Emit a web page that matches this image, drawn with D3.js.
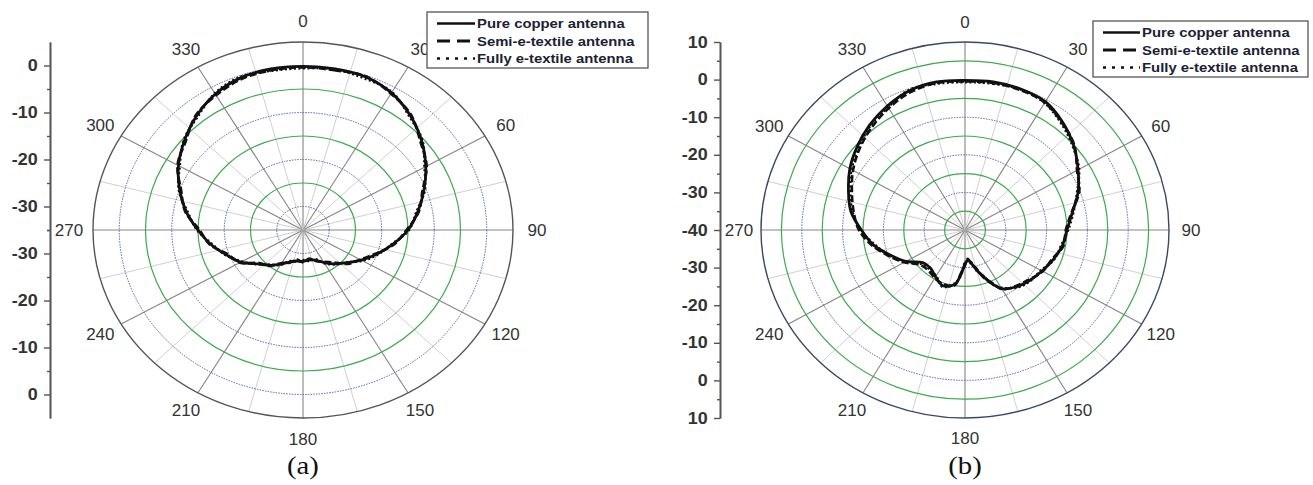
<!DOCTYPE html>
<html>
<head>
<meta charset="utf-8">
<script src="https://cdn.jsdelivr.net/npm/d3@7"></script>
<style>
  html, body { margin: 0; padding: 0; background: #fff; }
  svg { display: block; }
</style>
</head>
<body>
<svg id="chart" width="1313" height="485"></svg>
<script>
// ---------------- DATA ----------------
const seriesNames = ["Pure copper antenna", "Semi-e-textile antenna", "Fully e-textile antenna"];
const angleLabels = [0, 30, 60, 90, 120, 150, 180, 210, 240, 270, 300, 330];

// Panel (a)
const anglesA = [0,10,20,30,40,50,60,70,80,90,100,110,120,130,140,150,160,170,180,190,200,210,220,230,240,250,260,270,280,290,300,310,320,330,340,350];
const copperA = [-0.2,-0.2,-0.3,-1.3,-3.2,-5.5,-8.0,-10.5,-12.8,-15.0,-17.6,-20.0,-22.2,-24.2,-25.6,-27.0,-28.2,-28.5,-28.3,-28.3,-27.8,-26.6,-25.2,-23.8,-21.3,-19.5,-17.2,-15.0,-12.4,-10.0,-7.6,-5.5,-3.4,-1.6,-0.5,-0.2];
const semiA   = [-0.4,-0.5,-0.2,-1.5,-3.0,-5.8,-7.8,-10.8,-12.6,-15.3,-17.4,-20.3,-22.4,-23.8,-26.0,-27.2,-28.0,-28.8,-28.1,-28.6,-27.6,-26.9,-25.0,-24.1,-21.1,-19.8,-17.0,-15.3,-12.2,-10.3,-7.4,-5.8,-3.2,-1.9,-0.8,-0.5];
const fullyA  = [-0.6,-0.3,-0.7,-1.1,-3.5,-5.3,-8.3,-10.3,-13.1,-14.8,-17.8,-19.8,-21.9,-24.3,-25.4,-26.8,-28.4,-28.3,-28.6,-28.1,-28.0,-26.4,-25.4,-23.6,-21.6,-19.3,-17.5,-14.8,-12.7,-9.8,-7.9,-5.3,-3.7,-1.4,-0.3,-0.6];
const radialTicksA = [0, -10, -20, -30];

// Panel (b)
const anglesB = [0,10,20,30,40,50,60,70,80,90,100,110,120,130,140,150,155,160,165,170,175,180,185,190,200,210,220,230,240,250,260,270,280,290,300,310,320,330,340,350];
const copperB = [-0.2,0.0,-0.1,-0.6,-2.7,-5.2,-8.0,-10.5,-13.3,-15.0,-15.8,-17.0,-18.2,-19.2,-20.3,-22.0,-24.2,-26.8,-29.0,-31.0,-32.0,-31.0,-28.0,-25.3,-24.2,-25.6,-26.8,-26.5,-23.3,-20.5,-17.2,-14.6,-11.6,-9.6,-7.4,-5.5,-3.6,-1.9,-0.5,0.0];
const semiB   = [-0.5,-0.3,-0.4,-0.9,-2.9,-5.0,-8.3,-10.2,-13.5,-15.3,-15.5,-17.3,-18.0,-19.5,-20.6,-21.8,-24.6,-26.5,-29.4,-30.6,-32.3,-30.6,-28.4,-25.0,-24.6,-25.2,-26.0,-25.6,-22.8,-20.0,-16.8,-14.0,-12.3,-10.5,-8.3,-6.3,-4.4,-2.6,-1.0,-0.3];
const fullyB  = [-0.7,-0.5,-0.2,-1.0,-3.2,-5.5,-7.7,-10.8,-13.0,-14.7,-16.1,-16.8,-18.5,-19.0,-20.0,-22.3,-24.0,-27.1,-28.7,-31.3,-31.7,-31.3,-27.6,-25.6,-23.9,-25.9,-26.4,-26.0,-23.0,-20.2,-17.6,-14.4,-12.0,-10.1,-7.9,-6.0,-3.9,-2.3,-0.3,-0.5];
const radialTicksB = [10, 0, -10, -20, -30, -40];

// ---------------- DRAW ----------------
const svg = d3.select("#chart");
svg.append("rect").attr("width", 1313).attr("height", 485).attr("fill", "#fff");

const SANS = "'Liberation Sans', Arial, sans-serif";
const lineStyles = [
  { dash: null, width: 2.8 },
  { dash: "7,3", width: 2.6 },
  { dash: "2,2.5", width: 2.4 }
];

function drawPanel(cfg) {
  const g = svg.append("g");
  const { cx, cy, rx, ry, min, max } = cfg;
  const rX = d3.scaleLinear().domain([min, max]).range([0, rx]);
  const rY = d3.scaleLinear().domain([min, max]).range([0, ry]);
  const rad = d => d * Math.PI / 180;
  const px = (a, v) => cx + rX(v) * Math.sin(rad(a));
  const py = (a, v) => cy - rY(v) * Math.cos(rad(a));

  // spokes
  const spokes = d3.range(0, 360, 15);
  g.selectAll(".spoke").data(spokes).join("line")
    .attr("x1", cx).attr("y1", cy)
    .attr("x2", a => px(a, max)).attr("y2", a => py(a, max))
    .attr("stroke", a => a % 30 === 0 ? "#858585" : "#d0d0d0")
    .attr("stroke-width", a => a % 30 === 0 ? 1.1 : 1);

  // rings
  const rings = d3.range(min + 5, max, 5);
  g.selectAll(".ring").data(rings).join("ellipse")
    .attr("cx", cx).attr("cy", cy)
    .attr("rx", v => rX(v)).attr("ry", v => rY(v))
    .attr("fill", "none")
    .attr("stroke", v => v % 10 === 0 ? "#5562b8" : "#3daa4c")
    .attr("stroke-width", v => v % 10 === 0 ? 1 : 1.2)
    .attr("stroke-dasharray", v => v % 10 === 0 ? "1.5,1.2" : null);

  // outer ring
  g.append("ellipse")
    .attr("cx", cx).attr("cy", cy).attr("rx", rX(max)).attr("ry", rY(max))
    .attr("fill", "none").attr("stroke", cfg.outerColor).attr("stroke-width", 1.4);

  // angle labels
  g.selectAll(".alab").data(angleLabels).join("text")
    .attr("x", a => cx + (rx + cfg.ox) * Math.sin(rad(a)))
    .attr("y", a => cy - (ry + cfg.oy) * Math.cos(rad(a)))
    .attr("text-anchor", "middle").attr("dominant-baseline", "central")
    .attr("font-family", SANS).attr("font-size", 17).attr("fill", "#333")
    .text(a => a);

  // radial axis (mirrored halves)
  const yTop = d3.scaleLinear().domain([min, max]).range([cy, cy - ry]);
  const yBot = d3.scaleLinear().domain([min, max]).range([cy, cy + ry]);
  const minor = d3.range(min, max + 0.1, 5).filter(v => v % 10 !== 0 && v < max);
  const fmt = d => String(d);
  const ax = g.append("g").attr("transform", `translate(${cfg.axisX},0)`);
  const topMajor = cfg.ticks;
  const botMajor = cfg.ticks.filter(v => v !== min);
  ax.append("g").call(d3.axisLeft(yTop).tickValues(minor).tickSize(3).tickSizeOuter(0).tickFormat(""));
  ax.append("g").call(d3.axisLeft(yBot).tickValues(minor).tickSize(3).tickSizeOuter(0).tickFormat(""));
  ax.append("g").call(d3.axisLeft(yTop).tickValues(topMajor).tickSize(6).tickSizeOuter(0).tickPadding(5).tickFormat(fmt));
  ax.append("g").call(d3.axisLeft(yBot).tickValues(botMajor).tickSize(6).tickSizeOuter(0).tickPadding(5).tickFormat(fmt));
  ax.selectAll("path.domain").attr("stroke", "#555").attr("stroke-width", 1.6);
  ax.selectAll("line").attr("stroke", "#555").attr("stroke-width", 1.4);
  ax.selectAll("text").attr("font-family", SANS).attr("font-size", 16)
    .attr("font-weight", "bold").attr("fill", "#333")
    .attr("transform", "scale(1.12,1)");

  // data curves
  const line = d3.line()
    .x(d => px(d[0], d[1])).y(d => py(d[0], d[1]))
    .curve(d3.curveCatmullRomClosed.alpha(0.5));
  cfg.series.forEach((vals, i) => {
    const pts = cfg.angles.map((a, k) => [a, vals[k]]);
    g.append("path").attr("d", line(pts))
      .attr("fill", "none").attr("stroke", "#111")
      .attr("stroke-width", lineStyles[i].width)
      .attr("stroke-dasharray", lineStyles[i].dash)
      .attr("stroke-linejoin", "round");
  });

  // legend
  const L = cfg.legend;
  const lg = g.append("g");
  lg.append("rect").attr("x", L.x).attr("y", L.y).attr("width", L.w).attr("height", L.h)
    .attr("fill", "#fff").attr("stroke", "#555").attr("stroke-width", 1.3);
  seriesNames.forEach((name, i) => {
    const yy = L.y + L.row0 + i * L.dy;
    lg.append("line").attr("x1", L.x + 10).attr("x2", L.x + 10 + L.sample)
      .attr("y1", yy).attr("y2", yy)
      .attr("stroke", "#111").attr("stroke-width", i === 1 ? 3.2 : 2.6)
      .attr("stroke-dasharray", i === 0 ? null : (i === 1 ? "13,7" : "3,6"));
    lg.append("text")
      .attr("transform", `translate(${L.x + 12 + L.sample},${yy}) scale(1.1,1)`)
      .attr("dominant-baseline", "central")
      .attr("font-family", SANS).attr("font-size", 13.5).attr("font-weight", "bold")
      .attr("fill", "#1c2233").text(name);
  });

  // caption
  g.append("text")
    .attr("transform", `translate(${cx},474) scale(1.15,1)`)
    .attr("text-anchor", "middle")
    .attr("font-family", "'Liberation Serif', 'Times New Roman', serif")
    .attr("font-size", 25).attr("fill", "#111").text(cfg.caption);
}

drawPanel({
  cx: 303, cy: 230, rx: 210, ry: 188, min: -35, max: 5,
  outerColor: "#555", ox: 24, oy: 21, axisX: 50, ticks: radialTicksA,
  angles: anglesA, series: [copperA, semiA, fullyA],
  legend: { x: 427, y: 12, w: 221, h: 56, row0: 11.5, dy: 17.5, sample: 38 },
  caption: "(a)"
});

drawPanel({
  cx: 965, cy: 230, rx: 204, ry: 188, min: -40, max: 10,
  outerColor: "#3d4666", ox: 22, oy: 20, axisX: 720, ticks: radialTicksB,
  angles: anglesB, series: [copperB, semiB, fullyB],
  legend: { x: 1093, y: 21, w: 215, h: 56, row0: 11.5, dy: 17.5, sample: 37 },
  caption: "(b)"
});
</script>
</body>
</html>
